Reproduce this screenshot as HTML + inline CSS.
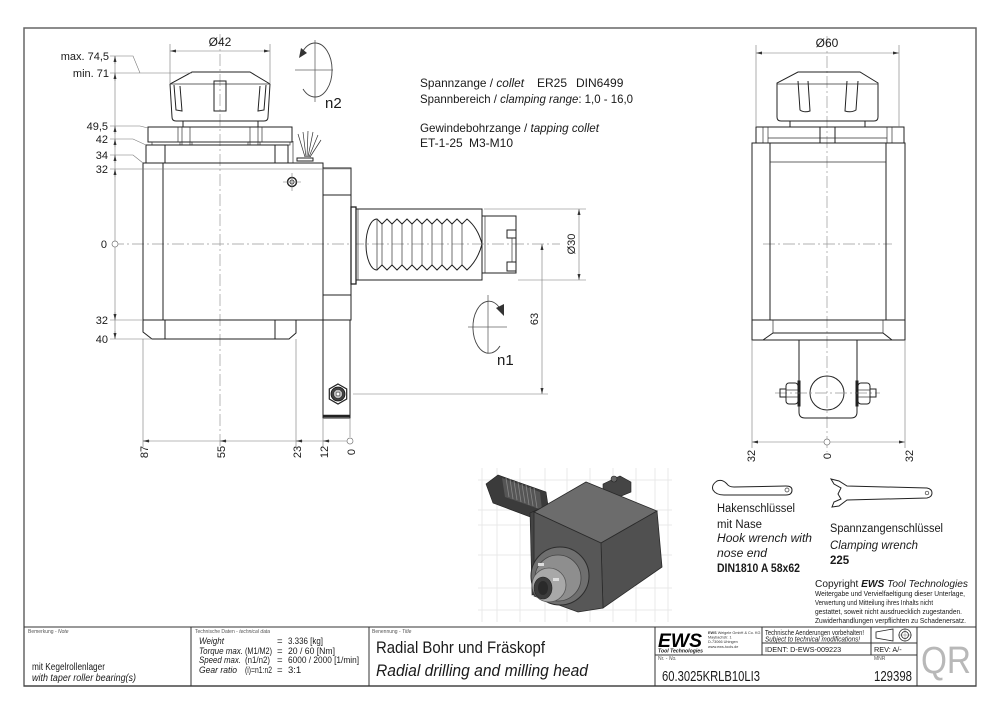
<!DOCTYPE html>
<html><head><meta charset="utf-8"><style>
html,body{margin:0;padding:0;background:#fff;}
svg{display:block;}
text{font-family:"Liberation Sans",sans-serif;}
.k{fill:none;stroke:#222;stroke-width:1;}
.kt{fill:none;stroke:#333;stroke-width:0.7;}
.g{fill:none;stroke:#777;stroke-width:0.6;}
.c{fill:none;stroke:#999;stroke-width:0.7;stroke-dasharray:12 3 2 3;}
.tb{fill:none;stroke:#333;stroke-width:1;}
</style></head><body>
<svg width="1000" height="715" viewBox="0 0 1000 715" xmlns="http://www.w3.org/2000/svg" fill="#1a1a1a">
<defs>
<marker id="ar" viewBox="0 0 8 4" refX="8" refY="2" markerUnits="userSpaceOnUse" markerWidth="6" markerHeight="3" orient="auto-start-reverse"><path d="M0,0 L8,2 L0,4 z" fill="#333"/></marker>
</defs>

<!-- frame -->
<rect x="24" y="28" width="952" height="658" fill="none" stroke="#666" stroke-width="1.5"/>

<!-- ================= LEFT VIEW ================= -->
<line class="c" x1="220" y1="34" x2="220" y2="446"/>
<line class="c" x1="112" y1="244" x2="560" y2="244"/>

<!-- collet nut -->
<path class="k" d="M172,117 Q172,121 176,121 L264,121 Q268,121 268,117 L270,84 L250,72 L192,72 L170,84 Z"/>
<line class="kt" x1="170" y1="84" x2="270" y2="84"/>
<path class="k" d="M174,85 L176,110 L182,111 L180,86"/>
<path class="k" d="M266,85 L264,110 L258,111 L260,86"/>
<rect class="k" x="214" y="81" width="12" height="30"/>
<rect class="k" x="183" y="121" width="75" height="6"/>
<!-- flange 49,5 -->
<rect class="k" x="148" y="127" width="144" height="15"/>
<line class="kt" x1="178" y1="127" x2="178" y2="142"/><line class="kt" x1="182" y1="127" x2="182" y2="145"/>
<line class="kt" x1="190" y1="127" x2="190" y2="145"/><line class="kt" x1="250" y1="127" x2="250" y2="145"/>
<line class="kt" x1="258" y1="127" x2="258" y2="145"/><line class="kt" x1="262" y1="127" x2="262" y2="142"/>
<rect class="kt" x="152" y="142" width="28" height="3"/><rect class="kt" x="192" y="142" width="56" height="3"/><rect class="kt" x="260" y="142" width="30" height="3"/>
<!-- block 42-34 -->
<rect class="k" x="146" y="145" width="142" height="18"/>
<line class="k" x1="165" y1="145" x2="165" y2="163"/><line class="k" x1="275" y1="145" x2="275" y2="163"/>
<line class="kt" x1="293" y1="141" x2="293" y2="163"/>
<!-- spray -->
<rect class="k" x="297" y="158" width="16" height="3" fill="#666"/>
<path class="kt" d="M305,157 L298,134 M306,157 L303,132 M307,157 L308,131 M308,157 L313,132 M309,157 L318,135 M310,157 L321,140"/>
<!-- main body -->
<rect class="k" x="143" y="163" width="180" height="157"/>
<line class="k" x1="163" y1="163" x2="163" y2="320"/>
<circle cx="292" cy="182" r="4.5" fill="none" stroke="#222" stroke-width="1.4"/>
<circle cx="292" cy="182" r="2" fill="none" stroke="#222" stroke-width="0.8"/>
<path class="g" d="M283,182 L301,182 M292,173 L292,191"/>
<!-- right block -->
<rect class="k" x="323" y="168" width="28" height="152"/>
<line class="k" x1="323" y1="195" x2="351" y2="195"/>
<line class="k" x1="323" y1="295" x2="351" y2="295"/>
<!-- lower flange -->
<path class="k" d="M143,320 L143,332 L152,339 L289,339 L296,333 L296,320"/>
<line class="k" x1="165" y1="320" x2="165" y2="339"/><line class="k" x1="275" y1="320" x2="275" y2="339"/>
<!-- stem -->
<rect class="k" x="323" y="320" width="27" height="98"/>
<line x1="323" y1="416" x2="350" y2="416" stroke="#222" stroke-width="2.5"/>
<polygon points="338,384 346.7,389 346.7,399 338,404 329.3,399 329.3,389" fill="#fff" stroke="#222" stroke-width="1.2"/>
<circle cx="338" cy="394" r="7" fill="#444" stroke="#111" stroke-width="0.8"/>
<circle cx="338" cy="394" r="4.5" fill="#bbb" stroke="#222" stroke-width="0.6"/>
<circle cx="338" cy="394" r="2" fill="#fff" stroke="#222" stroke-width="0.5"/>

<!-- spindle -->
<rect x="351" y="207" width="5" height="77" fill="#fff" stroke="#222" stroke-width="1.3"/>
<rect class="k" x="356" y="209" width="126" height="71"/>
<line class="kt" x1="358" y1="209" x2="358" y2="280"/>
<path class="k" d="M377,219 L382,224 L387,219 L392,224 L397,219 L402,224 L407,219 L412,224 L417,219 L422,224 L427,219 L432,224 L437,219 L442,224 L447,219 L452,224 L457,219 L462,224 L467,219 Q478,228 482,244 Q478,260 467,270 L462,265 L457,270 L452,265 L447,270 L442,265 L437,270 L432,265 L427,270 L422,265 L417,270 L412,265 L407,270 L402,265 L397,270 L392,265 L387,270 L382,265 L377,270 A11,25.5 0 0 1 377,219 Z"/>
<path class="kt" d="M377,219 L377,270 M382,224 L382,265 M392,224 L392,265 M402,224 L402,265 M412,224 L412,265 M422,224 L422,265 M432,224 L432,265 M442,224 L442,265 M452,224 L452,265 M462,224 L462,265"/>
<!-- holder end -->
<rect class="k" x="482" y="216" width="34" height="57"/>
<line class="kt" x1="485" y1="216" x2="485" y2="273"/>
<rect class="k" x="507" y="230" width="9" height="8"/>
<rect class="k" x="507" y="262" width="9" height="9"/>
<line class="kt" x1="512" y1="238" x2="512" y2="262"/>

<!-- left ordinate dimensions -->
<line class="g" x1="115" y1="56" x2="115" y2="339"/>
<circle cx="115" cy="244" r="3" fill="#fff" stroke="#777" stroke-width="0.7"/>
<line class="g" x1="115" y1="64" x2="115" y2="56" marker-end="url(#ar)"/>
<line class="g" x1="115" y1="81" x2="115" y2="73" marker-end="url(#ar)"/>
<line class="g" x1="115" y1="134" x2="115" y2="126" marker-end="url(#ar)"/>
<line class="g" x1="115" y1="147" x2="115" y2="139" marker-end="url(#ar)"/>
<line class="g" x1="115" y1="163" x2="115" y2="155" marker-end="url(#ar)"/>
<line class="g" x1="115" y1="177" x2="115" y2="169" marker-end="url(#ar)"/>
<line class="g" x1="115" y1="312" x2="115" y2="320" marker-end="url(#ar)"/>
<line class="g" x1="115" y1="331" x2="115" y2="339" marker-end="url(#ar)"/>
<path class="g" d="M110,56 L133,56 L140,73 L192,73 M110,73 L170,73"/>
<path class="g" d="M110,126 L140,126 L148,128"/>
<path class="g" d="M110,139 L133,139 L146,145"/>
<path class="g" d="M110,155 L133,155 L143,163"/>
<path class="g" d="M110,169 L351,169"/>
<path class="g" d="M110,320 L143,320 M110,339 L152,339"/>
<g font-size="11" text-anchor="end">
<text x="109" y="60">max. 74,5</text>
<text x="109" y="77">min. 71</text>
<text x="108" y="130">49,5</text>
<text x="108" y="143">42</text>
<text x="108" y="159">34</text>
<text x="108" y="173">32</text>
<text x="107" y="248">0</text>
<text x="108" y="324">32</text>
<text x="108" y="343">40</text>
</g>

<!-- Ø42 -->
<path class="g" d="M170,44 L170,83 M270,44 L270,83"/>
<line class="g" x1="170" y1="51" x2="270" y2="51" marker-start="url(#ar)" marker-end="url(#ar)"/>
<text x="220" y="46" font-size="12" text-anchor="middle">Ø42</text>

<!-- n2 symbol -->
<path d="M295,70 L333,70 M315,40 L315,102" fill="none" stroke="#666" stroke-width="0.8"/>
<path d="M303,89 A17,27 0 1 0 303,51" fill="none" stroke="#444" stroke-width="0.9"/>
<polygon points="299,58 301,48 307,53" fill="#333"/>
<text x="325" y="108" font-size="15">n2</text>

<!-- n1 symbol -->
<path d="M468,327 L507,327 M488,295 L488,353" fill="none" stroke="#666" stroke-width="0.8"/>
<path d="M500,346 A16,26 0 1 1 499,307" fill="none" stroke="#444" stroke-width="0.9"/>
<polygon points="504,316 496,308 504,304" fill="#333"/>
<text x="497" y="365" font-size="15">n1</text>

<!-- Ø30 -->
<path class="g" d="M484,209 L586,209 M518,280 L586,280"/>
<line class="g" x1="579" y1="209" x2="579" y2="280" marker-start="url(#ar)" marker-end="url(#ar)"/>
<text transform="translate(575,244) rotate(-90)" font-size="11" text-anchor="middle">Ø30</text>
<!-- 63 -->
<path class="g" d="M353,394 L548,394"/>
<line class="g" x1="542" y1="244" x2="542" y2="394" marker-start="url(#ar)" marker-end="url(#ar)"/>
<text transform="translate(538,319) rotate(-90)" font-size="11" text-anchor="middle">63</text>

<!-- bottom dims left view -->
<path class="g" d="M143,339 L143,447 M296,339 L296,447 M323,418 L323,447 M350,418 L350,437"/>
<line class="g" x1="143" y1="441" x2="347" y2="441"/>
<line class="g" x1="150" y1="441" x2="143" y2="441" marker-end="url(#ar)"/>
<line class="g" x1="227" y1="441" x2="220" y2="441" marker-end="url(#ar)"/>
<line class="g" x1="303" y1="441" x2="296" y2="441" marker-end="url(#ar)"/>
<line class="g" x1="330" y1="441" x2="323" y2="441" marker-end="url(#ar)"/>
<circle cx="350" cy="441" r="3" fill="#fff" stroke="#777" stroke-width="0.7"/>
<g font-size="11" text-anchor="middle">
<text transform="translate(148,452) rotate(-90)">87</text>
<text transform="translate(225,452) rotate(-90)">55</text>
<text transform="translate(301,452) rotate(-90)">23</text>
<text transform="translate(328,452) rotate(-90)">12</text>
<text transform="translate(355,452) rotate(-90)">0</text>
</g>

<!-- center text block -->
<g font-size="12">
<text x="420" y="87"><tspan textLength="104" lengthAdjust="spacingAndGlyphs">Spannzange / <tspan font-style="italic">collet</tspan></tspan></text>
<text x="537" y="87">ER25</text>
<text x="576" y="87">DIN6499</text>
<text x="420" y="103" textLength="213" lengthAdjust="spacingAndGlyphs">Spannbereich / <tspan font-style="italic">clamping range</tspan>: 1,0 - 16,0</text>
<text x="420" y="132" textLength="179" lengthAdjust="spacingAndGlyphs">Gewindebohrzange / <tspan font-style="italic">tapping collet</tspan></text>
<text x="420" y="147">ET-1-25</text>
<text x="469" y="147">M3-M10</text>
</g>

<!-- ================= RIGHT VIEW ================= -->
<line class="c" x1="827" y1="36" x2="827" y2="452"/>
<line class="c" x1="763" y1="244" x2="892" y2="244"/>
<path class="k" d="M777,117 Q777,121 781,121 L874,121 Q878,121 878,117 L878,83 L860,72 L798,72 L777,83 Z"/>
<line class="kt" x1="777" y1="84" x2="878" y2="84"/>
<path class="k" d="M798,81 L800,110 Q804,113 810,111 L808,81"/>
<path class="k" d="M847,81 L845,111 Q851,113 856,110 L858,81"/>
<rect class="k" x="790" y="121" width="75" height="6"/>
<rect class="k" x="756" y="127" width="148" height="16"/>
<line class="kt" x1="763" y1="127" x2="763" y2="143"/><line class="kt" x1="768" y1="127" x2="768" y2="143"/>
<line class="kt" x1="887" y1="127" x2="887" y2="143"/><line class="kt" x1="892" y1="127" x2="892" y2="143"/>
<rect class="k" x="820" y="127" width="15" height="16"/>
<line class="kt" x1="768" y1="138" x2="887" y2="138"/>
<rect class="k" x="752" y="143" width="153" height="177"/>
<line class="k" x1="770" y1="143" x2="770" y2="320"/><line class="k" x1="886" y1="143" x2="886" y2="320"/>
<line class="kt" x1="770" y1="162" x2="886" y2="162"/>
<path class="k" d="M752,320 L752,340 L905,340 L905,320"/>
<path class="k" d="M763,340 L773,333 L883,333 L892,340"/>
<line class="kt" x1="773" y1="320" x2="773" y2="333"/><line class="kt" x1="883" y1="320" x2="883" y2="333"/>
<path class="k" d="M799,340 L799,412 Q799,418 805,418 L851,418 Q857,418 857,412 L857,340"/>
<circle class="k" cx="827" cy="393" r="17"/>
<line class="c" x1="775" y1="393" x2="880" y2="393"/>
<rect class="k" x="780" y="389" width="6" height="8"/>
<rect class="k" x="786" y="383" width="12" height="21" rx="3"/>
<line class="kt" x1="786" y1="390" x2="798" y2="390"/><line class="kt" x1="786" y1="397" x2="798" y2="397"/>
<rect class="k" x="798" y="381" width="2" height="25"/>
<rect class="k" x="870" y="389" width="6" height="8"/>
<rect class="k" x="858" y="383" width="12" height="21" rx="3"/>
<line class="kt" x1="858" y1="390" x2="870" y2="390"/><line class="kt" x1="858" y1="397" x2="870" y2="397"/>
<rect class="k" x="856" y="381" width="2" height="25"/>
<path class="g" d="M756,45 L756,127 M899,45 L899,127"/>
<line class="g" x1="756" y1="53" x2="899" y2="53" marker-start="url(#ar)" marker-end="url(#ar)"/>
<text x="827" y="47" font-size="12" text-anchor="middle">Ø60</text>
<path class="g" d="M752,340 L752,448 M905,340 L905,448"/>
<line class="g" x1="752" y1="442" x2="905" y2="442" marker-start="url(#ar)" marker-end="url(#ar)"/>
<circle cx="827" cy="442" r="3" fill="#fff" stroke="#777" stroke-width="0.7"/>
<g font-size="11" text-anchor="middle">
<text transform="translate(755,456) rotate(-90)">32</text>
<text transform="translate(831,456) rotate(-90)">0</text>
<text transform="translate(913,456) rotate(-90)">32</text>
</g>

<!-- ================= 3D RENDER ================= -->
<g stroke="#e2e2e2" stroke-width="0.7" fill="none">
<path d="M482,468 L482,622 M497,468 L497,622 M520,468 L520,622 M545,468 L545,622 M567,468 L567,622 M590,468 L590,622 M613,468 L613,622 M636,468 L636,622 M655,468 L655,622 M668,468 L668,622"/>
<path d="M478,480 L672,480 M478,510 L672,510 M478,525 L672,525 M478,555 L672,555 M478,588 L672,588 M478,610 L672,610"/>
</g>
<polygon points="486,484 498,475 546,492 549,512 541,521 493,503" fill="#3b3b3b" stroke="#222" stroke-width="0.6"/>
<polygon points="502,478 540,492 542,510 505,497" fill="#555"/>
<path d="M506,478 L509,497 M510,479 L513,499 M514,481 L517,500 M518,482 L521,502 M522,484 L525,503 M526,485 L529,505 M530,487 L533,506 M534,488 L537,508" fill="none" stroke="#888" stroke-width="0.8"/>
<polygon points="603,484 620,476 631,482 631,492 614,499 603,494" fill="#454545" stroke="#222" stroke-width="0.6"/>
<circle cx="614" cy="479" r="3" fill="#666" stroke="#222" stroke-width="0.6"/>
<polygon points="530,513 548,505 552,590 532,595" fill="#444" stroke="#222" stroke-width="0.6"/>
<polygon points="534,512 586,482 657,511 601,543" fill="#6c6c6c" stroke="#2a2a2a" stroke-width="0.8"/>
<polygon points="601,543 657,511 662,567 603,608" fill="#505050" stroke="#2a2a2a" stroke-width="0.8"/>
<polygon points="534,512 601,543 603,608 578,612 534,596" fill="#575757" stroke="#2a2a2a" stroke-width="0.8"/>
<circle cx="560" cy="576" r="29" fill="#6f6f6f" stroke="#2c2c2c" stroke-width="1"/>
<circle cx="558" cy="578" r="23" fill="#8e8e8e" stroke="#444" stroke-width="0.8"/>
<circle cx="549" cy="585" r="17" fill="#a8a8a8" stroke="#555" stroke-width="0.8"/>
<rect x="538" y="563" width="6" height="3" fill="#ddd"/><rect x="553" y="578" width="6" height="3" fill="#ddd"/>
<ellipse cx="543" cy="588" rx="9" ry="11" fill="#3c3c3c" stroke="#222" stroke-width="0.6"/>
<ellipse cx="543" cy="588" rx="5" ry="7" fill="#2a2a2a"/>

<!-- ================= WRENCHES ================= -->
<path class="k" d="M726,483 Q722,479 717,481 Q711,485 713,490 Q716,495 724,495 L786,495 Q792,495 792,490 Q792,486 786,486 L734,487 Q729,487 727,484 Z"/>
<circle class="kt" cx="787" cy="490" r="2"/>
<path class="k" d="M831,479 L839,481 L847,486 L927,488 Q932,489 932,493 Q932,497 927,498 L847,500 L839,506 L832,507 L834,502 L841,499 L838,494 L841,488 L834,484 Z"/>
<circle class="kt" cx="927" cy="493" r="1.8"/>
<g font-size="11.5">
<text x="717" y="512" textLength="78" lengthAdjust="spacingAndGlyphs">Hakenschlüssel</text>
<text x="717" y="528" textLength="45" lengthAdjust="spacingAndGlyphs">mit Nase</text>
<text x="717" y="542" font-style="italic" textLength="95" lengthAdjust="spacingAndGlyphs">Hook wrench with</text>
<text x="717" y="557" font-style="italic" textLength="50" lengthAdjust="spacingAndGlyphs">nose end</text>
<text x="717" y="572" font-weight="bold" textLength="83" lengthAdjust="spacingAndGlyphs">DIN1810 A 58x62</text>
<text x="830" y="532" textLength="113" lengthAdjust="spacingAndGlyphs">Spannzangenschlüssel</text>
<text x="830" y="549" font-style="italic" textLength="88" lengthAdjust="spacingAndGlyphs">Clamping wrench</text>
<text x="830" y="564" font-weight="bold">225</text>
</g>
<text x="815" y="587" font-size="10.5" textLength="153" lengthAdjust="spacingAndGlyphs">Copyright <tspan font-weight="bold" font-style="italic">EWS</tspan> <tspan font-style="italic">Tool Technologies</tspan></text>
<g font-size="7.3">
<text x="815" y="596" textLength="150" lengthAdjust="spacingAndGlyphs">Weitergabe und Vervielfaeltigung dieser Unterlage,</text>
<text x="815" y="605" textLength="118" lengthAdjust="spacingAndGlyphs">Verwertung und Mitteilung ihres Inhalts nicht</text>
<text x="815" y="614" textLength="147" lengthAdjust="spacingAndGlyphs">gestattet, soweit nicht ausdruecklich zugestanden.</text>
<text x="815" y="623" textLength="151" lengthAdjust="spacingAndGlyphs">Zuwiderhandlungen verpflichten zu Schadenersatz.</text>
</g>

<!-- ================= TITLE BLOCK ================= -->
<line class="tb" x1="24" y1="627" x2="976" y2="627"/>
<path class="tb" d="M191,627 L191,686 M369,627 L369,686 M655,627 L655,686 M762,627 L762,655 M871,627 L871,655 M917,627 L917,686"/>
<path class="tb" d="M762,643 L917,643 M655,655 L917,655"/>
<g font-size="5" fill="#555">
<text x="28" y="633">Bemerkung - <tspan font-style="italic">Note</tspan></text>
<text x="195" y="633">Technische Daten - <tspan font-style="italic">technical data</tspan></text>
<text x="372" y="633">Benennung - <tspan font-style="italic">Title</tspan></text>
<text x="658" y="660">Nr. - <tspan font-style="italic">No.</tspan></text>
<text x="874" y="660">MNR</text>
</g>
<text x="32" y="670" font-size="10" textLength="73" lengthAdjust="spacingAndGlyphs">mit Kegelrollenlager</text>
<text x="32" y="681" font-size="10" font-style="italic" textLength="104" lengthAdjust="spacingAndGlyphs">with taper roller bearing(s)</text>
<g font-size="9.5">
<text x="199" y="644" font-style="italic" textLength="25" lengthAdjust="spacingAndGlyphs">Weight</text>
<text x="277" y="644">=</text>
<text x="288" y="644" textLength="35" lengthAdjust="spacingAndGlyphs">3.336 [kg]</text>
<text x="199" y="654" font-style="italic" textLength="44" lengthAdjust="spacingAndGlyphs">Torque max.</text>
<text x="245" y="654" textLength="27" lengthAdjust="spacingAndGlyphs">(M1/M2)</text>
<text x="277" y="654">=</text>
<text x="288" y="654" textLength="47" lengthAdjust="spacingAndGlyphs">20 / 60 [Nm]</text>
<text x="199" y="663" font-style="italic" textLength="42" lengthAdjust="spacingAndGlyphs">Speed max.</text>
<text x="245" y="663" textLength="25" lengthAdjust="spacingAndGlyphs">(n1/n2)</text>
<text x="277" y="663">=</text>
<text x="288" y="663" textLength="71" lengthAdjust="spacingAndGlyphs">6000 / 2000 [1/min]</text>
<text x="199" y="673" font-style="italic" textLength="38" lengthAdjust="spacingAndGlyphs">Gear ratio</text>
<text x="245" y="673" textLength="27" lengthAdjust="spacingAndGlyphs">(i)=n1:n2</text>
<text x="277" y="673">=</text>
<text x="288" y="673">3:1</text>
</g>
<text x="376" y="653" font-size="16.5" textLength="169" lengthAdjust="spacingAndGlyphs">Radial Bohr und Fräskopf</text>
<text x="376" y="676" font-size="16.5" font-style="italic" textLength="212" lengthAdjust="spacingAndGlyphs">Radial drilling and milling head</text>
<text x="658" y="647" font-size="19" font-weight="bold" font-style="italic" textLength="44" lengthAdjust="spacingAndGlyphs" fill="#000">EWS</text>
<text x="658" y="652.5" font-size="5.2" font-weight="bold" font-style="italic" textLength="45" lengthAdjust="spacingAndGlyphs">Tool Technologies</text>
<g font-size="3.8" fill="#333">
<text x="708" y="634"><tspan font-weight="bold">EWS</tspan> Weigele GmbH &amp; Co. KG</text>
<text x="708" y="638.5">Maybachstr. 1</text>
<text x="708" y="643">D-73066 Uhingen</text>
<text x="708" y="648">www.ews-tools.de</text>
</g>
<text x="765" y="635" font-size="7.3" textLength="99" lengthAdjust="spacingAndGlyphs">Technische Aenderungen vorbehalten!</text>
<text x="765" y="641.5" font-size="7.3" font-style="italic" textLength="95" lengthAdjust="spacingAndGlyphs">Subject to technical modifications!</text>
<text x="765" y="652" font-size="7.3">IDENT:  D-EWS-009223</text>
<text x="874" y="652" font-size="7.3">REV:  A/-</text>
<polygon points="876,632 893,629 893,641 876,638" fill="none" stroke="#222" stroke-width="0.8"/>
<circle cx="905" cy="635" r="6" fill="none" stroke="#222" stroke-width="0.8"/>
<circle cx="905" cy="635" r="3.5" fill="none" stroke="#222" stroke-width="0.8"/>
<path d="M898,635 L912,635 M905,628 L905,642" fill="none" stroke="#555" stroke-width="0.4"/>
<text x="662" y="681" font-size="14.5" textLength="98" lengthAdjust="spacingAndGlyphs">60.3025KRLB10LI3</text>
<text x="874" y="681" font-size="14.5" textLength="38" lengthAdjust="spacingAndGlyphs">129398</text>
<text x="921" y="673" font-size="38" style="fill:#b8b8b8" textLength="50" lengthAdjust="spacingAndGlyphs">QR</text>
<line class="tb" x1="24" y1="686" x2="976" y2="686"/>
</svg>
</body></html>
